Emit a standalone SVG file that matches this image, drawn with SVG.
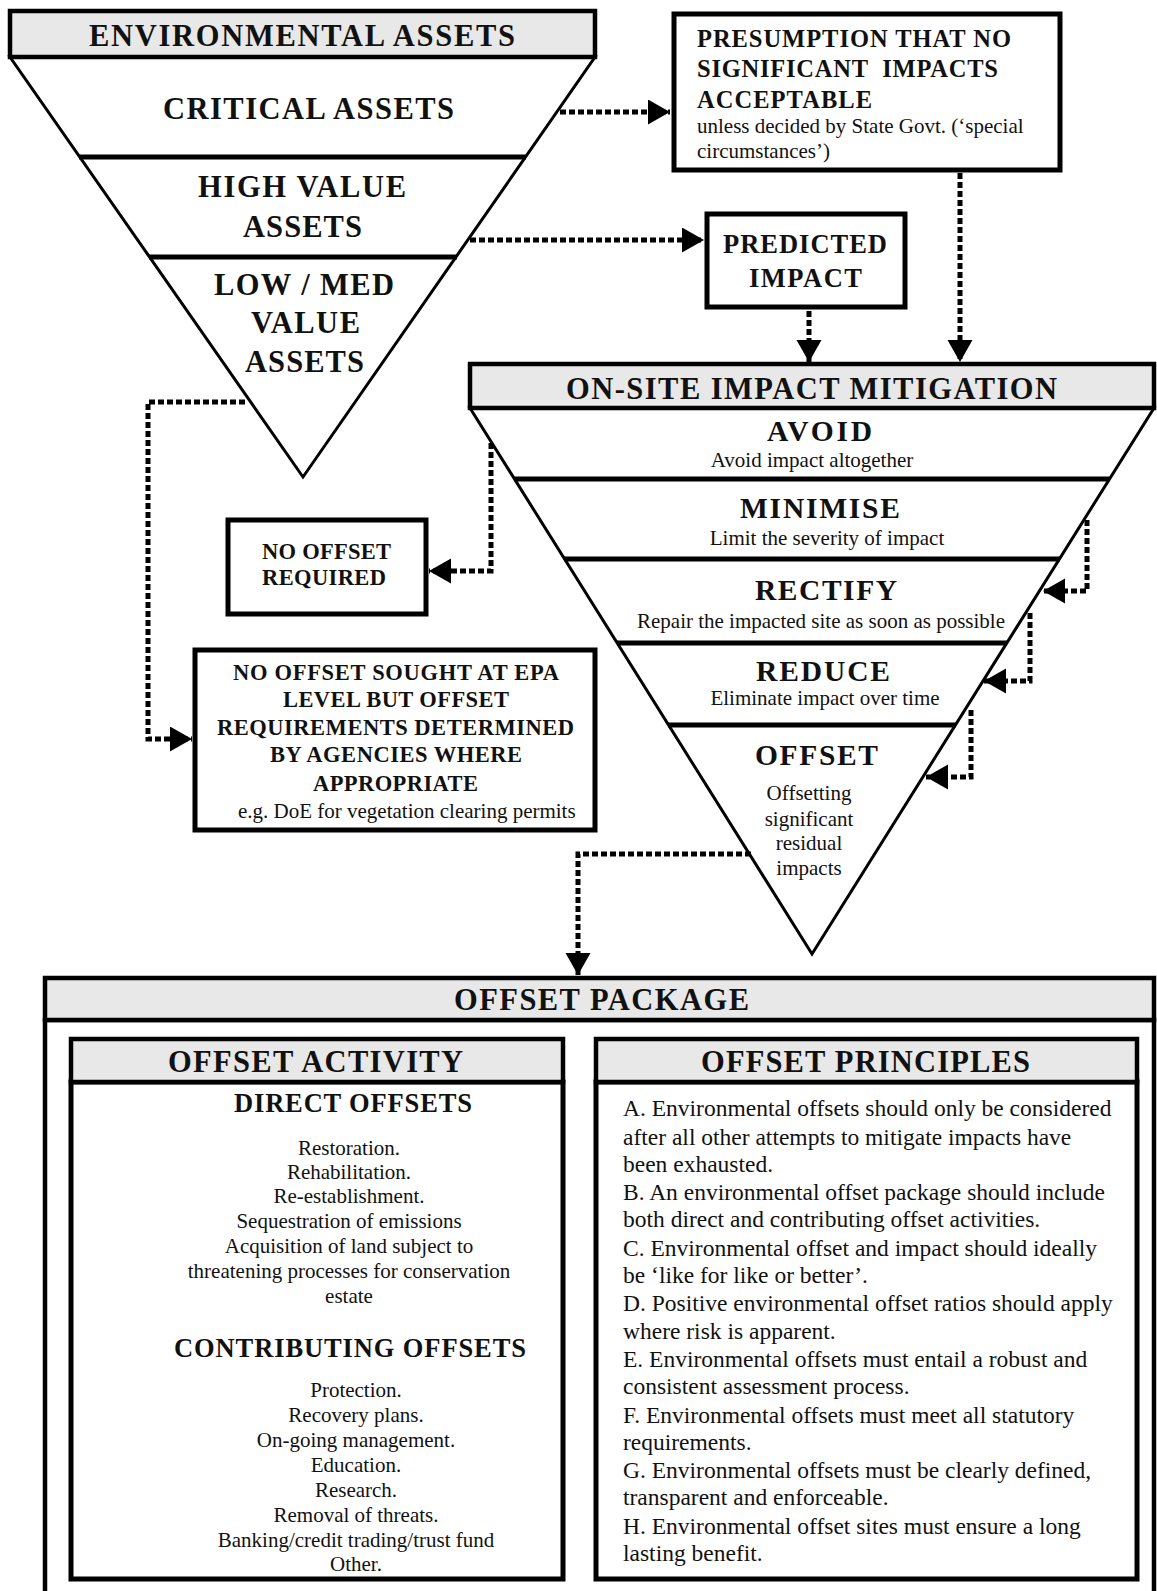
<svg xmlns="http://www.w3.org/2000/svg" width="1157" height="1591" viewBox="0 0 1157 1591">
<style>
text{font-family:"Liberation Serif","Times New Roman",serif;fill:#111}
.b{font-weight:bold}
.hd{fill:#e8e8e8;stroke:#000;stroke-width:4.5}
.box{fill:#fff;stroke:#000;stroke-width:5}
.tri{fill:#fff;stroke:#000;stroke-width:3;stroke-linejoin:miter}
.div{stroke:#000;stroke-width:5}
.con{fill:none;stroke:#000;stroke-width:5;stroke-dasharray:6 3}
.c{text-anchor:middle}
.r21{font-size:21px}
.p{font-size:23.5px}
</style>
<defs>
<marker id="ah" markerUnits="userSpaceOnUse" markerWidth="24" markerHeight="26" refX="22" refY="12.5" orient="auto">
<path d="M0,0 L22,12.5 L0,25 z" fill="#000"/>
</marker>
</defs>

<g id="env-assets">
<polygon class="tri" points="10,57 595,57 303,477"/>
<line class="div" x1="79" y1="157" x2="526" y2="157"/>
<line class="div" x1="149" y1="257" x2="457" y2="257"/>
<rect class="hd" x="10" y="11" width="585" height="46"/>
<text class="b" x="89" y="46" font-size="30.5" textLength="426">ENVIRONMENTAL ASSETS</text>
<text class="b" x="163" y="119" font-size="30.5" textLength="291">CRITICAL ASSETS</text>
<text class="b" x="198" y="197" font-size="30.5" textLength="208">HIGH VALUE</text>
<text class="b" x="243" y="237" font-size="30.5" textLength="119">ASSETS</text>
<text class="b" x="214" y="295" font-size="30.5" textLength="180">LOW / MED</text>
<text class="b" x="251" y="333" font-size="30.5" textLength="109">VALUE</text>
<text class="b" x="245" y="372" font-size="30.5" textLength="119">ASSETS</text>
</g>

<g id="presumption">
<rect class="box" x="674" y="14" width="386" height="156"/>
<text class="b" x="697" y="47" font-size="24.5" textLength="314">PRESUMPTION THAT NO</text>
<text class="b" x="697" y="77" font-size="24.5" textLength="301" xml:space="preserve">SIGNIFICANT  IMPACTS</text>
<text class="b" x="697" y="108" font-size="24.5" textLength="175">ACCEPTABLE</text>
<text class="r21" x="697" y="133">unless decided by State Govt. (‘special</text>
<text class="r21" x="697" y="158">circumstances’)</text>
</g>

<g id="predicted-impact">
<rect class="box" x="707" y="214" width="198" height="93"/>
<text class="b" x="723" y="253" font-size="26.5" textLength="164">PREDICTED</text>
<text class="b" x="749" y="287" font-size="26.5" textLength="113">IMPACT</text>
</g>

<g id="on-site-mitigation">
<polygon class="tri" points="470,408 1154,408 812,954"/>
<line class="div" x1="514" y1="479" x2="1110" y2="479"/>
<line class="div" x1="564" y1="559" x2="1060" y2="559"/>
<line class="div" x1="617" y1="643" x2="1007" y2="643"/>
<line class="div" x1="668" y1="725" x2="956" y2="725"/>
<rect class="hd" x="470" y="364" width="684" height="44"/>
<text class="b" x="566" y="399" font-size="30.5" textLength="491">ON-SITE IMPACT MITIGATION</text>
<text class="b" x="767" y="441" font-size="29.5" textLength="105">AVOID</text>
<text class="r21 c" x="812" y="467">Avoid impact altogether</text>
<text class="b" x="740" y="518" font-size="29.5" textLength="160">MINIMISE</text>
<text class="r21 c" x="827" y="545">Limit the severity of impact</text>
<text class="b" x="755" y="600" font-size="29.5" textLength="142">RECTIFY</text>
<text class="r21 c" x="821" y="628">Repair the impacted site as soon as possible</text>
<text class="b" x="756" y="681" font-size="29.5" textLength="134">REDUCE</text>
<text class="r21 c" x="825" y="705">Eliminate impact over time</text>
<text class="b" x="755" y="765" font-size="29.5" textLength="123">OFFSET</text>
<text class="r21 c" x="809" y="800">Offsetting</text>
<text class="r21 c" x="809" y="826">significant</text>
<text class="r21 c" x="809" y="850">residual</text>
<text class="r21 c" x="809" y="875">impacts</text>
</g>

<g id="no-offset-required">
<rect class="box" x="228" y="520" width="198" height="94"/>
<text class="b" x="262" y="559" font-size="22.5" textLength="129">NO OFFSET</text>
<text class="b" x="262" y="585" font-size="22.5" textLength="124">REQUIRED</text>
</g>

<g id="no-offset-sought">
<rect class="box" x="195" y="650" width="400" height="180"/>
<text class="b" x="233" y="680" font-size="22.5" textLength="326">NO OFFSET SOUGHT AT EPA</text>
<text class="b" x="283" y="707" font-size="22.5" textLength="226">LEVEL BUT OFFSET</text>
<text class="b" x="217" y="735" font-size="22.5" textLength="357">REQUIREMENTS DETERMINED</text>
<text class="b" x="270" y="762" font-size="22.5" textLength="252">BY AGENCIES WHERE</text>
<text class="b" x="313" y="791" font-size="22.5" textLength="165">APPROPRIATE</text>
<text class="r21" x="238" y="818">e.g. DoE for vegetation clearing permits</text>
</g>

<g id="offset-package">
<rect fill="#fff" stroke="#000" stroke-width="4.5" x="45" y="1020" width="1109" height="590"/>
<rect class="hd" x="45" y="978" width="1109" height="42"/>
<text class="b" x="454" y="1010" font-size="30.5" textLength="295">OFFSET PACKAGE</text>
</g>

<g id="offset-activity">
<rect class="box" x="71" y="1082" width="492" height="497"/>
<rect class="hd" x="71" y="1039" width="492" height="43"/>
<text class="b" x="168" y="1072" font-size="30.5" textLength="295">OFFSET ACTIVITY</text>
<text class="b" x="234" y="1112" font-size="26.5" textLength="238">DIRECT OFFSETS</text>
<text class="r21 c" x="349" y="1155">Restoration.</text>
<text class="r21 c" x="349" y="1179">Rehabilitation.</text>
<text class="r21 c" x="349" y="1203">Re-establishment.</text>
<text class="r21 c" x="349" y="1228">Sequestration of emissions</text>
<text class="r21 c" x="349" y="1253">Acquisition of land subject to</text>
<text class="r21 c" x="349" y="1278">threatening processes for conservation</text>
<text class="r21 c" x="349" y="1303">estate</text>
<text class="b" x="174" y="1357" font-size="26.5" textLength="352">CONTRIBUTING OFFSETS</text>
<text class="r21 c" x="356" y="1397">Protection.</text>
<text class="r21 c" x="356" y="1422">Recovery plans.</text>
<text class="r21 c" x="356" y="1447">On-going management.</text>
<text class="r21 c" x="356" y="1472">Education.</text>
<text class="r21 c" x="356" y="1497">Research.</text>
<text class="r21 c" x="356" y="1522">Removal of threats.</text>
<text class="r21 c" x="356" y="1547">Banking/credit trading/trust fund</text>
<text class="r21 c" x="356" y="1571">Other.</text>
</g>

<g id="offset-principles">
<rect class="box" x="596" y="1082" width="541" height="497"/>
<rect class="hd" x="596" y="1039" width="541" height="43"/>
<text class="b" x="701" y="1072" font-size="30.5" textLength="329">OFFSET PRINCIPLES</text>
<text class="p" x="623" y="1116">A. Environmental offsets should only be considered</text>
<text class="p" x="623" y="1145">after all other attempts to mitigate impacts have</text>
<text class="p" x="623" y="1172">been exhausted.</text>
<text class="p" x="623" y="1200">B. An environmental offset package should include</text>
<text class="p" x="623" y="1227">both direct and contributing offset activities.</text>
<text class="p" x="623" y="1256">C. Environmental offset and impact should ideally</text>
<text class="p" x="623" y="1283">be ‘like for like or better’.</text>
<text class="p" x="623" y="1311">D. Positive environmental offset ratios should apply</text>
<text class="p" x="623" y="1339">where risk is apparent.</text>
<text class="p" x="623" y="1367">E. Environmental offsets must entail a robust and</text>
<text class="p" x="623" y="1394">consistent assessment process.</text>
<text class="p" x="623" y="1423">F. Environmental offsets must meet all statutory</text>
<text class="p" x="623" y="1450">requirements.</text>
<text class="p" x="623" y="1478">G. Environmental offsets must be clearly defined,</text>
<text class="p" x="623" y="1505">transparent and enforceable.</text>
<text class="p" x="623" y="1534">H. Environmental offset sites must ensure a long</text>
<text class="p" x="623" y="1561">lasting benefit.</text>
</g>

<g id="connectors">
<path class="con" d="M560,112 H670" marker-end="url(#ah)"/>
<path class="con" d="M470,240 H704" marker-end="url(#ah)"/>
<path class="con" d="M960,173 V362" marker-end="url(#ah)"/>
<path class="con" d="M809,311 V362" marker-end="url(#ah)"/>
<path class="con" d="M491,443 V571 H429" marker-end="url(#ah)"/>
<path class="con" d="M245,402 H148 V739 H192" marker-end="url(#ah)"/>
<path class="con" d="M1087,520 V591 H1043" marker-end="url(#ah)"/>
<path class="con" d="M1030,613 V681 H984" marker-end="url(#ah)"/>
<path class="con" d="M971,710 V777 H926" marker-end="url(#ah)"/>
<path class="con" d="M751,854 H578 V975" marker-end="url(#ah)"/>
</g>
</svg>
